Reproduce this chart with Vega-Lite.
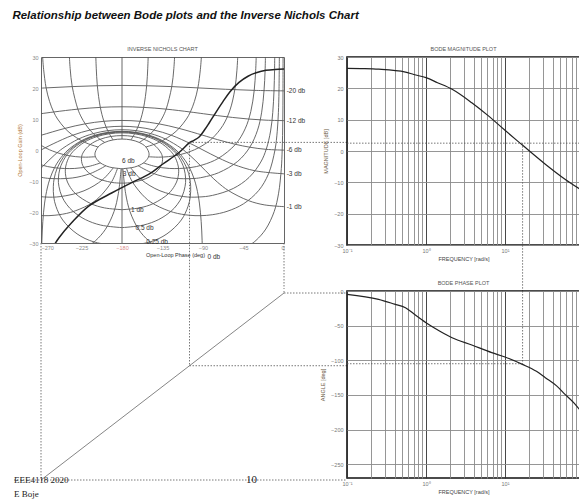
{
"$schema": "https://vega.github.io/schema/vega-lite/v6.json",
"padding": {"left": 12, "top": 10, "right": 0, "bottom": 0},
"background": "white",
"title": {"text": "Relationship between Bode plots and the Inverse Nichols Chart", "anchor": "start", "font": "Liberation Sans", "fontSize": 11.5, "fontWeight": "bold", "fontStyle": "italic", "color": "#111", "offset": 24},
"config": {
  "font": "Liberation Sans",
  "axis": {"labelFont": "Liberation Sans", "labelFontSize": 5.5, "labelColor": "#777", "titleFont": "Liberation Sans", "titleFontSize": 5.5, "titleFontWeight": "normal", "titleColor": "#444", "ticks": false, "domain": false, "gridColor": "#999", "gridWidth": 0.9, "labelPadding": 3, "labelOverlap": false, "labelBound": false}
},
"datasets": {
  "nc": [
    {"c":"m6","x":-180,"y":-6.04},{"c":"m6","x":-165.9,"y":-5.48},{"c":"m6","x":-156.1,"y":-4.17},{"c":"m6","x":-151.3,"y":-2.66},{"c":"m6","x":-149.9,"y":-1.25},{"c":"m6","x":-153.4,"y":0.97},{"c":"m6","x":-160.9,"y":2.44},{"c":"m6","x":-170.1,"y":3.26},{"c":"m6","x":-180,"y":3.53},{"c":"m6","x":-189.9,"y":3.26},{"c":"m6","x":-199.1,"y":2.44},{"c":"m6","x":-206.6,"y":0.97},{"c":"m6","x":-210.1,"y":-1.25},{"c":"m6","x":-208.7,"y":-2.66},{"c":"m6","x":-203.9,"y":-4.17},{"c":"m6","x":-194.1,"y":-5.48},{"c":"m6","x":-180,"y":-6.04},
    {"c":"m3","x":-180,"y":-10.69},{"c":"m3","x":-168.2,"y":-10.43},{"c":"m3","x":-149.9,"y":-8.74},{"c":"m3","x":-137.5,"y":-5.61},{"c":"m3","x":-134.9,"y":-3.01},{"c":"m3","x":-136.5,"y":-1.01},{"c":"m3","x":-144.7,"y":1.76},{"c":"m3","x":-155.6,"y":3.44},{"c":"m3","x":-167.6,"y":4.36},{"c":"m3","x":-180,"y":4.65},{"c":"m3","x":-192.4,"y":4.36},{"c":"m3","x":-204.4,"y":3.44},{"c":"m3","x":-215.3,"y":1.76},{"c":"m3","x":-223.5,"y":-1.01},{"c":"m3","x":-225.1,"y":-3.01},{"c":"m3","x":-222.5,"y":-5.61},{"c":"m3","x":-210.1,"y":-8.74},{"c":"m3","x":-191.8,"y":-10.43},{"c":"m3","x":-180,"y":-10.69},
    {"c":"m1","x":-180,"y":-19.25},{"c":"m1","x":-160.5,"y":-18.67},{"c":"m1","x":-145.3,"y":-17.29},{"c":"m1","x":-128.4,"y":-14.1},{"c":"m1","x":-121.2,"y":-11.39},{"c":"m1","x":-118.1,"y":-9.23},{"c":"m1","x":-117.1,"y":-6.01},{"c":"m1","x":-120.4,"y":-2.73},{"c":"m1","x":-125.7,"y":-0.44},{"c":"m1","x":-138.3,"y":2.54},{"c":"m1","x":-151.9,"y":4.29},{"c":"m1","x":-165.9,"y":5.23},{"c":"m1","x":-180,"y":5.53},{"c":"m1","x":-194.1,"y":5.23},{"c":"m1","x":-208.1,"y":4.29},{"c":"m1","x":-221.7,"y":2.54},{"c":"m1","x":-234.3,"y":-0.44},{"c":"m1","x":-239.6,"y":-2.73},{"c":"m1","x":-242.9,"y":-6.01},{"c":"m1","x":-241.9,"y":-9.23},{"c":"m1","x":-238.8,"y":-11.39},{"c":"m1","x":-231.6,"y":-14.1},{"c":"m1","x":-214.7,"y":-17.29},{"c":"m1","x":-199.5,"y":-18.67},{"c":"m1","x":-180,"y":-19.25},
    {"c":"m05","x":-180,"y":-25.04},{"c":"m05","x":-156.3,"y":-24.22},{"c":"m05","x":-139.2,"y":-22.42},{"c":"m05","x":-125.9,"y":-19.86},{"c":"m05","x":-118.7,"y":-17.64},{"c":"m05","x":-113.2,"y":-14.98},{"c":"m05","x":-109.9,"y":-11.71},{"c":"m05","x":-109.3,"y":-9.32},{"c":"m05","x":-111.1,"y":-5.92},{"c":"m05","x":-116.5,"y":-2.55},{"c":"m05","x":-122.9,"y":-0.24},{"c":"m05","x":-136.7,"y":2.77},{"c":"m05","x":-151,"y":4.53},{"c":"m05","x":-165.4,"y":5.47},{"c":"m05","x":-180,"y":5.77},{"c":"m05","x":-194.6,"y":5.47},{"c":"m05","x":-209,"y":4.53},{"c":"m05","x":-223.3,"y":2.77},{"c":"m05","x":-237.1,"y":-0.24},{"c":"m05","x":-243.5,"y":-2.55},{"c":"m05","x":-248.9,"y":-5.92},{"c":"m05","x":-250.7,"y":-9.32},{"c":"m05","x":-250.1,"y":-11.71},{"c":"m05","x":-246.8,"y":-14.98},{"c":"m05","x":-241.3,"y":-17.64},{"c":"m05","x":-234.1,"y":-19.86},{"c":"m05","x":-220.8,"y":-22.42},{"c":"m05","x":-203.7,"y":-24.22},{"c":"m05","x":-180,"y":-25.04},
    {"c":"m025","x":-180,"y":-31.06},{"c":"m025","x":-148.9,"y":-29.66},{"c":"m025","x":-130.1,"y":-27.06},{"c":"m025","x":-114.1,"y":-22.58},{"c":"m025","x":-106.6,"y":-18.16},{"c":"m025","x":-104.2,"y":-15.19},{"c":"m025","x":-103.7,"y":-11.74},{"c":"m025","x":-104.6,"y":-9.28},{"c":"m025","x":-108,"y":-5.83},{"c":"m025","x":-114.5,"y":-2.44},{"c":"m025","x":-121.4,"y":-0.12},{"c":"m025","x":-135.8,"y":2.89},{"c":"m025","x":-150.5,"y":4.65},{"c":"m025","x":-165.2,"y":5.6},{"c":"m025","x":-180,"y":5.9},{"c":"m025","x":-194.8,"y":5.6},{"c":"m025","x":-209.5,"y":4.65},{"c":"m025","x":-224.2,"y":2.89},{"c":"m025","x":-238.6,"y":-0.12},{"c":"m025","x":-245.5,"y":-2.44},{"c":"m025","x":-252,"y":-5.83},{"c":"m025","x":-255.4,"y":-9.28},{"c":"m025","x":-256.3,"y":-11.74},{"c":"m025","x":-255.8,"y":-15.19},{"c":"m025","x":-253.4,"y":-18.16},{"c":"m025","x":-245.9,"y":-22.58},{"c":"m025","x":-229.9,"y":-27.06},{"c":"m025","x":-211.1,"y":-29.66},{"c":"m025","x":-180,"y":-31.06},
    {"c":"m0","x":-90.5,"y":-35.2},{"c":"m0","x":-91,"y":-29.14},{"c":"m0","x":-92,"y":-23.12},{"c":"m0","x":-94,"y":-17.11},{"c":"m0","x":-97,"y":-12.26},{"c":"m0","x":-100,"y":-9.19},{"c":"m0","x":-105,"y":-5.72},{"c":"m0","x":-110,"y":-3.3},{"c":"m0","x":-120,"y":0},{"c":"m0","x":-135,"y":3.01},{"c":"m0","x":-150,"y":4.77},{"c":"m0","x":-165,"y":5.72},{"c":"m0","x":-180,"y":6.02},{"c":"m0","x":-195,"y":5.72},{"c":"m0","x":-210,"y":4.77},{"c":"m0","x":-225,"y":3.01},{"c":"m0","x":-240,"y":0},{"c":"m0","x":-250,"y":-3.3},{"c":"m0","x":-255,"y":-5.72},{"c":"m0","x":-260,"y":-9.19},{"c":"m0","x":-263,"y":-12.26},{"c":"m0","x":-266,"y":-17.11},{"c":"m0","x":-268,"y":-23.12},{"c":"m0","x":-269,"y":-29.14},{"c":"m0","x":-269.5,"y":-35.2},
    {"c":"mn1","x":0,"y":-18.27},{"c":"mn1","x":-22,"y":-17.69},{"c":"mn1","x":-39.7,"y":-16.3},{"c":"mn1","x":-61.7,"y":-13.1},{"c":"mn1","x":-73.9,"y":-10.39},{"c":"mn1","x":-81.9,"y":-8.23},{"c":"mn1","x":-92.9,"y":-5.01},{"c":"mn1","x":-104.6,"y":-1.73},{"c":"mn1","x":-114.3,"y":0.56},{"c":"mn1","x":-131.7,"y":3.54},{"c":"mn1","x":-148.1,"y":5.29},{"c":"mn1","x":-164.1,"y":6.24},{"c":"mn1","x":-180,"y":6.54},{"c":"mn1","x":-195.9,"y":6.24},{"c":"mn1","x":-211.9,"y":5.29},{"c":"mn1","x":-228.3,"y":3.54},{"c":"mn1","x":-245.7,"y":0.56},{"c":"mn1","x":-255.4,"y":-1.73},{"c":"mn1","x":-267.1,"y":-5.01},{"c":"mn1","x":-278.1,"y":-8.23},
    {"c":"mn3","x":0,"y":-7.68},{"c":"mn3","x":-32.1,"y":-6.71},{"c":"mn3","x":-55.9,"y":-4.67},{"c":"mn3","x":-72.4,"y":-2.6},{"c":"mn3","x":-90,"y":0},{"c":"mn3","x":-103.5,"y":2},{"c":"mn3","x":-125.3,"y":4.77},{"c":"mn3","x":-144.4,"y":6.44},{"c":"mn3","x":-162.4,"y":7.36},{"c":"mn3","x":-180,"y":7.65},{"c":"mn3","x":-197.6,"y":7.36},{"c":"mn3","x":-215.6,"y":6.44},{"c":"mn3","x":-234.7,"y":4.77},{"c":"mn3","x":-256.5,"y":2},{"c":"mn3","x":-270,"y":0},{"c":"mn3","x":-287.6,"y":-2.6},
    {"c":"mn6","x":0,"y":-0.04},{"c":"mn6","x":-19.8,"y":0.21},{"c":"mn6","x":-38,"y":0.9},{"c":"mn6","x":-53.9,"y":1.83},{"c":"mn6","x":-73.8,"y":3.34},{"c":"mn6","x":-90.1,"y":4.75},{"c":"mn6","x":-116.6,"y":6.97},{"c":"mn6","x":-139.1,"y":8.44},{"c":"mn6","x":-159.9,"y":9.26},{"c":"mn6","x":-180,"y":9.53},{"c":"mn6","x":-200.1,"y":9.26},{"c":"mn6","x":-220.9,"y":8.44},{"c":"mn6","x":-243.4,"y":6.97},{"c":"mn6","x":-269.9,"y":4.75},{"c":"mn6","x":-286.2,"y":3.34},
    {"c":"mn12","x":0,"y":9.48},{"c":"mn12","x":-19.9,"y":9.62},{"c":"mn12","x":-39.1,"y":9.98},{"c":"mn12","x":-57.2,"y":10.5},{"c":"mn12","x":-74,"y":11.09},{"c":"mn12","x":-89.6,"y":11.7},{"c":"mn12","x":-104.1,"y":12.26},{"c":"mn12","x":-130.9,"y":13.18},{"c":"mn12","x":-155.9,"y":13.75},{"c":"mn12","x":-180,"y":13.94},{"c":"mn12","x":-204.1,"y":13.75},{"c":"mn12","x":-229.1,"y":13.18},{"c":"mn12","x":-255.9,"y":12.26},{"c":"mn12","x":-270.4,"y":11.7},{"c":"mn12","x":-286,"y":11.09},
    {"c":"mn20","x":0,"y":19.08},{"c":"mn20","x":-33.1,"y":19.23},{"c":"mn20","x":-65.2,"y":19.59},{"c":"mn20","x":-95.7,"y":20.04},{"c":"mn20","x":-124.7,"y":20.45},{"c":"mn20","x":-152.6,"y":20.73},{"c":"mn20","x":-180,"y":20.83},{"c":"mn20","x":-207.4,"y":20.73},{"c":"mn20","x":-235.3,"y":20.45},{"c":"mn20","x":-264.3,"y":20.04},{"c":"mn20","x":-294.8,"y":19.59},
    {"c":"n150r","x":-170.1,"y":3.26},{"c":"n150r","x":-165,"y":5.72},{"c":"n150r","x":-159.9,"y":9.28},{"c":"n150r","x":-155.9,"y":13.79},{"c":"n150r","x":-152.6,"y":20.73},{"c":"n150r","x":-151.4,"y":26.39},{"c":"n150r","x":-150.8,"y":31.09},
    {"c":"n150l","x":-189.9,"y":3.26},{"c":"n150l","x":-195,"y":5.72},{"c":"n150l","x":-200.1,"y":9.28},{"c":"n150l","x":-204.1,"y":13.79},{"c":"n150l","x":-207.4,"y":20.73},{"c":"n150l","x":-208.6,"y":26.39},{"c":"n150l","x":-209.2,"y":31.09},
    {"c":"n120r","x":-160.9,"y":2.43},{"c":"n120r","x":-155.8,"y":3.4},{"c":"n120r","x":-150,"y":4.77},{"c":"n120r","x":-144.5,"y":6.4},{"c":"n120r","x":-139.1,"y":8.45},{"c":"n120r","x":-134.7,"y":10.66},{"c":"n120r","x":-130.9,"y":13.22},{"c":"n120r","x":-124.7,"y":20.45},{"c":"n120r","x":-122.4,"y":26.24},{"c":"n120r","x":-121.4,"y":31.01},
    {"c":"n120l","x":-199.1,"y":2.43},{"c":"n120l","x":-204.2,"y":3.4},{"c":"n120l","x":-210,"y":4.77},{"c":"n120l","x":-215.5,"y":6.4},{"c":"n120l","x":-220.9,"y":8.45},{"c":"n120l","x":-225.3,"y":10.66},{"c":"n120l","x":-229.1,"y":13.22},{"c":"n120l","x":-235.3,"y":20.45},{"c":"n120l","x":-237.6,"y":26.24},{"c":"n120l","x":-238.6,"y":31.01},
    {"c":"n90r","x":-153.4,"y":0.97},{"c":"n90r","x":-143.1,"y":1.94},{"c":"n90r","x":-135,"y":3.01},{"c":"n90r","x":-123.7,"y":5.12},{"c":"n90r","x":-116.6,"y":6.99},{"c":"n90r","x":-108.4,"y":10},{"c":"n90r","x":-104,"y":12.3},{"c":"n90r","x":-99.5,"y":15.68},{"c":"n90r","x":-95.7,"y":20.04},{"c":"n90r","x":-92.9,"y":26.03},{"c":"n90r","x":-91.6,"y":30.88},
    {"c":"n90l","x":-206.6,"y":0.97},{"c":"n90l","x":-216.9,"y":1.94},{"c":"n90l","x":-225,"y":3.01},{"c":"n90l","x":-236.3,"y":5.12},{"c":"n90l","x":-243.4,"y":6.99},{"c":"n90l","x":-251.6,"y":10},{"c":"n90l","x":-256,"y":12.3},{"c":"n90l","x":-260.5,"y":15.68},{"c":"n90l","x":-264.3,"y":20.04},{"c":"n90l","x":-267.1,"y":26.03},{"c":"n90l","x":-268.4,"y":30.88},
    {"c":"n50r","x":-150.6,"y":-2.17},{"c":"n50r","x":-139.5,"y":-2.31},{"c":"n50r","x":-128.4,"y":-2.14},{"c":"n50r","x":-115,"y":-1.46},{"c":"n50r","x":-99.4,"y":0.08},{"c":"n50r","x":-88.7,"y":1.77},{"c":"n50r","x":-79.4,"y":3.85},{"c":"n50r","x":-68,"y":7.88},{"c":"n50r","x":-60,"y":12.92},{"c":"n50r","x":-54.7,"y":19.45},{"c":"n50r","x":-52.3,"y":25.74},{"c":"n50r","x":-51.3,"y":30.72},
    {"c":"n50l","x":-209.4,"y":-2.17},{"c":"n50l","x":-220.5,"y":-2.31},{"c":"n50l","x":-231.6,"y":-2.14},{"c":"n50l","x":-245,"y":-1.46},{"c":"n50l","x":-260.6,"y":0.08},{"c":"n50l","x":-271.3,"y":1.77},{"c":"n50l","x":-280.6,"y":3.85},
    {"c":"n30r","x":-156.2,"y":-4.16},{"c":"n30r","x":-143.4,"y":-5.28},{"c":"n30r","x":-127.5,"y":-5.95},{"c":"n30r","x":-105,"y":-5.72},{"c":"n30r","x":-90,"y":-4.77},{"c":"n30r","x":-73.1,"y":-2.72},{"c":"n30r","x":-53.8,"y":1.86},{"c":"n30r","x":-43.2,"y":6.82},{"c":"n30r","x":-36.9,"y":12.39},{"c":"n30r","x":-33.1,"y":19.23},{"c":"n30r","x":-31.5,"y":25.64},{"c":"n30r","x":-30.8,"y":30.66},
    {"c":"n30l","x":-203.8,"y":-4.16},{"c":"n30l","x":-216.6,"y":-5.28},{"c":"n30l","x":-232.5,"y":-5.95},{"c":"n30l","x":-255,"y":-5.72},{"c":"n30l","x":-270,"y":-4.77},{"c":"n30l","x":-286.9,"y":-2.72},
    {"c":"n20r","x":-162.1,"y":-5.08},{"c":"n20r","x":-145,"y":-7.58},{"c":"n20r","x":-124.7,"y":-9.03},{"c":"n20r","x":-100,"y":-9.19},{"c":"n20r","x":-90,"y":-8.78},{"c":"n20r","x":-72.7,"y":-7.33},{"c":"n20r","x":-51.4,"y":-3.66},{"c":"n20r","x":-37.9,"y":0.94},{"c":"n20r","x":-29.4,"y":6.4},{"c":"n20r","x":-24.8,"y":12.2},{"c":"n20r","x":-22.2,"y":19.15},{"c":"n20r","x":-21,"y":25.6},{"c":"n20r","x":-20.6,"y":30.65},
    {"c":"n20l","x":-197.9,"y":-5.08},{"c":"n20l","x":-215,"y":-7.58},{"c":"n20l","x":-235.3,"y":-9.03},{"c":"n20l","x":-260,"y":-9.19},{"c":"n20l","x":-270,"y":-8.78},{"c":"n20l","x":-287.3,"y":-7.33},
    {"c":"n10r","x":-170.3,"y":-5.76},{"c":"n10r","x":-158.6,"y":-9.54},{"c":"n10r","x":-137.8,"y":-13.16},{"c":"n10r","x":-111.3,"y":-15.04},{"c":"n10r","x":-95,"y":-15.17},{"c":"n10r","x":-79.4,"y":-14.64},{"c":"n10r","x":-56.4,"y":-12.41},{"c":"n10r","x":-38.9,"y":-8.88},{"c":"n10r","x":-25.8,"y":-3.89},{"c":"n10r","x":-19.7,"y":0.26},{"c":"n10r","x":-14.9,"y":6.12},{"c":"n10r","x":-12.5,"y":12.08},{"c":"n10r","x":-11.1,"y":19.1},{"c":"n10r","x":-10.5,"y":25.58},{"c":"n10r","x":-10.3,"y":30.63},
    {"c":"n10l","x":-189.7,"y":-5.76},{"c":"n10l","x":-201.4,"y":-9.54},{"c":"n10l","x":-222.2,"y":-13.16},{"c":"n10l","x":-248.7,"y":-15.04},{"c":"n10l","x":-265,"y":-15.17},{"c":"n10l","x":-280.6,"y":-14.64},
    {"c":"n5r","x":-175,"y":-5.95},{"c":"n5r","x":-168.6,"y":-10.21},{"c":"n5r","x":-154.2,"y":-15.38},{"c":"n5r","x":-142.8,"y":-17.73},{"c":"n5r","x":-122.9,"y":-20.12},{"c":"n5r","x":-105.5,"y":-21.04},{"c":"n5r","x":-92.5,"y":-21.18},{"c":"n5r","x":-79.7,"y":-20.88},{"c":"n5r","x":-63.3,"y":-19.79},{"c":"n5r","x":-45,"y":-17.36},{"c":"n5r","x":-28.2,"y":-13.09},{"c":"n5r","x":-17.2,"y":-7.68},{"c":"n5r","x":-10,"y":0.07},{"c":"n5r","x":-7.5,"y":6.05},{"c":"n5r","x":-6.25,"y":12.05},{"c":"n5r","x":-5.56,"y":19.09},{"c":"n5r","x":-5.15,"y":30.63},
    {"c":"n5l","x":-185,"y":-5.95},{"c":"n5l","x":-191.4,"y":-10.21},{"c":"n5l","x":-205.8,"y":-15.38},{"c":"n5l","x":-217.2,"y":-17.73},{"c":"n5l","x":-237.1,"y":-20.12},{"c":"n5l","x":-254.5,"y":-21.04},{"c":"n5l","x":-267.5,"y":-21.18},{"c":"n5l","x":-280.3,"y":-20.88},
    {"c":"n1a","x":-179,"y":-6.02},{"c":"n1a","x":-176,"y":-13.95},{"c":"n1a","x":-171.1,"y":-19.88},{"c":"n1a","x":-161.7,"y":-25.55},{"c":"n1a","x":-150.7,"y":-29.22},{"c":"n1a","x":-139.7,"y":-31.56},
    {"c":"n1b","x":-41.9,"y":-31.48},{"c":"n1b","x":-31.1,"y":-29.16},{"c":"n1b","x":-20.2,"y":-25.5},{"c":"n1b","x":-10.9,"y":-19.85},{"c":"n1b","x":-6,"y":-13.94},{"c":"n1b","x":-3,"y":-6.01},{"c":"n1b","x":-2,"y":0},{"c":"n1b","x":-1.33,"y":9.54},{"c":"n1b","x":-1.11,"y":19.08},{"c":"n1b","x":-1.03,"y":30.63},
    {"c":"n1l","x":-181,"y":-6.02},{"c":"n1l","x":-184,"y":-13.95},{"c":"n1l","x":-188.9,"y":-19.88},{"c":"n1l","x":-198.3,"y":-25.55},{"c":"n1l","x":-209.3,"y":-29.22},{"c":"n1l","x":-220.3,"y":-31.56},
    {"c":"n0","x":-180,"y":-6.04},{"c":"n0","x":-180,"y":-35},
    {"c":"n180","x":-180,"y":3.53},{"c":"n180","x":-180,"y":35}
  ],
  "ol": [
    {"x":0,"y":26.1},{"x":-10,"y":26},{"x":-20,"y":25.7},{"x":-30,"y":25},{"x":-40,"y":23.8},{"x":-50,"y":21.8},{"x":-60,"y":18.8},{"x":-68,"y":15.5},{"x":-76,"y":12},{"x":-83,"y":8.8},{"x":-88,"y":6.6},{"x":-94,"y":4.3},{"x":-100,"y":3.1},{"x":-105,"y":2.35},{"x":-117,"y":-0.9},{"x":-135,"y":-4.6},{"x":-150,"y":-7.8},{"x":-169,"y":-10.5},{"x":-191,"y":-13.8},{"x":-217,"y":-18.1},{"x":-236,"y":-23.5},{"x":-250,"y":-28.3},{"x":-255,"y":-30.5}
  ],
  "mag": [
    {"w":0.1,"g":26.4},{"w":0.15,"g":26.3},{"w":0.251,"g":26.1},{"w":0.55,"g":25.2},{"w":0.7,"g":24.4},{"w":1,"g":23.4},{"w":1.4,"g":21.8},{"w":2.14,"g":19.7},{"w":3.8,"g":15.4},{"w":6.17,"g":11.2},{"w":10,"g":6.6},{"w":14.1,"g":3.4},{"w":16.6,"g":1.9},{"w":32.4,"g":-4.2},{"w":57.5,"g":-9},{"w":89,"g":-12.2}
  ],
  "ph": [
    {"w":0.1,"p":-4.8},{"w":0.251,"p":-12},{"w":0.4,"p":-19},{"w":0.55,"p":-24.1},{"w":0.7,"p":-33},{"w":1,"p":-45.7},{"w":1.5,"p":-58},{"w":2.14,"p":-67.4},{"w":3.8,"p":-78},{"w":6.8,"p":-89},{"w":10,"p":-95.3},{"w":16.6,"p":-105.9},{"w":25,"p":-116},{"w":32.4,"p":-125.1},{"w":45,"p":-137},{"w":57.5,"p":-149.2},{"w":75,"p":-162},{"w":89,"p":-172}
  ]
},
"columns": 2,
"align": "none",
"bounds": "flush",
"spacing": {"row": 46, "column": 63},
"concat": [
  {
    "width": 243, "height": 186,
    "title": {"text": "INVERSE NICHOLS CHART", "fontSize": 5.5, "fontWeight": "normal", "color": "#555", "offset": 3, "font": "Liberation Sans"},
    "view": {"stroke": "#666", "strokeWidth": 1},
    "layer": [
      {
        "data": {"name": "nc"},
        "mark": {"type": "line", "clip": true, "strokeWidth": 0.9, "color": "#585858", "interpolate": "catmull-rom"},
        "encoding": {
          "x": {"field": "x", "type": "quantitative", "scale": {"domain": [-270, 0], "nice": false, "zero": false},
                "axis": {"values": [-270, -225, -180, -135, -90, -45, 0], "tickCount": 20, "grid": false, "title": "Open-Loop Phase (deg)", "titleX": 134, "titlePadding": 2, "labelPadding": 2, "titleColor": "#333", "labelOverlap": false,
                         "labelColor": {"condition": {"test": "datum.value == -180", "value": "#d88a8a"}, "value": "#888"}}},
          "y": {"field": "y", "type": "quantitative", "scale": {"domain": [-30, 30], "nice": false, "zero": false},
                "axis": {"values": [-30, -20, -10, 0, 10, 20, 30], "tickCount": 20, "grid": false, "title": "Open-Loop Gain (dB)", "titleColor": "#b07838", "titlePadding": 6, "labelOverlap": false, "labelColor": "#888"}},
          "detail": {"field": "c"},
          "order": {"value": null}
        }
      },
      {
        "data": {"name": "ol"},
        "mark": {"type": "line", "clip": true, "strokeWidth": 1.5, "color": "#222", "interpolate": "catmull-rom"},
        "encoding": {
          "x": {"field": "x", "type": "quantitative"},
          "y": {"field": "y", "type": "quantitative"},
          "order": {"value": null}
        }
      },
      {
        "data": {"values": [
          {"k": "h", "x": -105, "y": 2.45}, {"k": "h", "x": 70, "y": 2.45},
          {"k": "v", "x": -105, "y": 2.35}, {"k": "v", "x": -105, "y": -44.84},
          {"k": "l", "x": -270, "y": -30}, {"k": "l", "x": -270, "y": -44.84},
          {"k": "r", "x": 0, "y": -30}, {"k": "r", "x": 0, "y": -44.84}
        ]},
        "mark": {"type": "line", "strokeWidth": 0.8, "color": "#555", "strokeDash": [1.5, 1.5]},
        "encoding": {
          "x": {"field": "x", "type": "quantitative"},
          "y": {"field": "y", "type": "quantitative"},
          "detail": {"field": "k"},
          "order": {"value": null}
        }
      },
      {
        "data": {"values": [
          {"t": "-20 db", "x": 3, "y": 19.1}, {"t": "-12 db", "x": 3, "y": 9.5}, {"t": "-6 db", "x": 3, "y": 0}, {"t": "-3 db", "x": 3, "y": -7.7}, {"t": "-1 db", "x": 3, "y": -18.3}
        ]},
        "mark": {"type": "text", "align": "left", "baseline": "middle", "fontSize": 6.5, "color": "#333", "font": "Liberation Sans"},
        "encoding": {
          "x": {"field": "x", "type": "quantitative"},
          "y": {"field": "y", "type": "quantitative"},
          "text": {"field": "t"}
        }
      },
      {
        "data": {"values": [
          {"t": "6 db", "x": -173, "y": -3.6}, {"t": "3 db", "x": -172, "y": -7.8}, {"t": "1 db", "x": -163, "y": -19.4}, {"t": "0.5 db", "x": -155, "y": -25}, {"t": "0.25 db", "x": -141, "y": -29.8}, {"t": "0 db", "x": -78, "y": -34.6}
        ]},
        "mark": {"type": "text", "align": "center", "baseline": "middle", "fontSize": 6.5, "color": "#333", "font": "Liberation Sans"},
        "encoding": {
          "x": {"field": "x", "type": "quantitative"},
          "y": {"field": "y", "type": "quantitative"},
          "text": {"field": "t"}
        }
      }
    ]
  },
  {
    "width": 233, "height": 188,
    "title": {"text": "BODE MAGNITUDE PLOT", "fontSize": 5.5, "fontWeight": "normal", "color": "#555", "offset": 3, "font": "Liberation Sans"},
    "view": {"stroke": "#111", "strokeWidth": 1.6},
    "layer": [
      {
        "data": {"name": "mag"},
        "mark": {"type": "line", "strokeWidth": 1.2, "color": "#222", "interpolate": "monotone"},
        "encoding": {
          "x": {"field": "w", "type": "quantitative", "scale": {"type": "log", "domain": [0.1, 89], "nice": false},
                "axis": {"values": [0.1,0.2,0.3,0.4,0.5,0.6,0.7,0.8,0.9,1,2,3,4,5,6,7,8,9,10,20,30,40,50,60,70,80], "tickCount": 40,
                         "labelExpr": "datum.value === 0.1 ? '10⁻¹' : datum.value === 1 ? '10⁰' : datum.value === 10 ? '10¹' : ''",
                         "gridColor": {"condition": {"test": "datum.value === 0.1 || datum.value === 1 || datum.value === 10", "value": "#333"}, "value": "#8a8a8a"},
                         "title": "FREQUENCY [rad/s]", "titlePadding": 3, "labelFlush": false, "labelOverlap": false}},
          "y": {"field": "g", "type": "quantitative", "scale": {"domain": [-30, 30], "nice": false, "zero": false},
                "axis": {"values": [-30, -20, -10, 0, 10, 20, 30], "tickCount": 20, "title": "MAGNITUDE [dB]", "titleColor": "#6b5a45", "titlePadding": 5, "labelPadding": 4, "gridColor": "#8a8a8a", "labelOverlap": false}},
          "order": {"value": null}
        }
      },
      {
        "data": {"values": [
          {"k": "h", "w": 0.1, "g": 2.5}, {"k": "h", "w": 89, "g": 2.5},
          {"k": "v", "w": 16.7, "g": 2.5}, {"k": "v", "w": 16.7, "g": -44.7}
        ]},
        "mark": {"type": "line", "strokeWidth": 0.8, "color": "#555", "strokeDash": [1.5, 1.5]},
        "encoding": {
          "x": {"field": "w", "type": "quantitative"},
          "y": {"field": "g", "type": "quantitative"},
          "detail": {"field": "k"},
          "order": {"value": null}
        }
      }
    ]
  },
  {
    "width": 243, "height": 212,
    "view": {"stroke": null},
    "layer": [
      {
        "data": {"values": [{"x": -270, "y": -270}, {"x": 0, "y": 0}]},
        "mark": {"type": "line", "strokeWidth": 0.9, "color": "#777"},
        "encoding": {
          "x": {"field": "x", "type": "quantitative", "scale": {"domain": [-270, 0], "nice": false, "zero": false}, "axis": null},
          "y": {"field": "y", "type": "quantitative", "scale": {"domain": [-303.2, 2.9], "nice": false, "zero": false}, "axis": null}
        }
      },
      {
        "data": {"values": [
          {"k": "v270", "x": -270, "y": 2.9}, {"k": "v270", "x": -270, "y": -270},
          {"k": "v105", "x": -105, "y": 2.9}, {"k": "v105", "x": -105, "y": -105},
          {"k": "v0", "x": 0, "y": 2.9}, {"k": "v0", "x": 0, "y": 0},
          {"k": "h0", "x": 0, "y": 0}, {"k": "h0", "x": 70, "y": 0},
          {"k": "h105", "x": -105, "y": -105}, {"k": "h105", "x": 70, "y": -105},
          {"k": "h270", "x": -300, "y": -270}, {"k": "h270", "x": 70, "y": -270}
        ]},
        "mark": {"type": "line", "strokeWidth": 0.8, "color": "#555", "strokeDash": [1.5, 1.5]},
        "encoding": {
          "x": {"field": "x", "type": "quantitative"},
          "y": {"field": "y", "type": "quantitative"},
          "detail": {"field": "k"},
          "order": {"value": null}
        }
      },
      {
        "data": {"values": [
          {"t": "EEE4118 2020", "x": -300, "y": -270}, {"t": "E Boje", "x": -300, "y": -290}
        ]},
        "mark": {"type": "text", "align": "left", "baseline": "middle", "fontSize": 9, "color": "#222", "font": "Liberation Serif"},
        "encoding": {
          "x": {"field": "x", "type": "quantitative"},
          "y": {"field": "y", "type": "quantitative"},
          "text": {"field": "t"}
        }
      },
      {
        "data": {"values": [{"t": "10", "x": -36, "y": -270}]},
        "mark": {"type": "text", "align": "center", "baseline": "middle", "fontSize": 11, "color": "#222", "font": "Liberation Serif"},
        "encoding": {
          "x": {"field": "x", "type": "quantitative"},
          "y": {"field": "y", "type": "quantitative"},
          "text": {"field": "t"}
        }
      }
    ]
  },
  {
    "width": 233, "height": 187,
    "title": {"text": "BODE PHASE PLOT", "fontSize": 5.5, "fontWeight": "normal", "color": "#555", "offset": 3, "font": "Liberation Sans"},
    "view": {"stroke": "#111", "strokeWidth": 1.6},
    "layer": [
      {
        "data": {"name": "ph"},
        "mark": {"type": "line", "strokeWidth": 1.2, "color": "#222", "interpolate": "monotone"},
        "encoding": {
          "x": {"field": "w", "type": "quantitative", "scale": {"type": "log", "domain": [0.1, 89], "nice": false},
                "axis": {"values": [0.1,0.2,0.3,0.4,0.5,0.6,0.7,0.8,0.9,1,2,3,4,5,6,7,8,9,10,20,30,40,50,60,70,80], "tickCount": 40,
                         "labelExpr": "datum.value === 0.1 ? '10⁻¹' : datum.value === 1 ? '10⁰' : datum.value === 10 ? '10¹' : ''",
                         "gridColor": {"condition": {"test": "datum.value === 0.1 || datum.value === 1 || datum.value === 10", "value": "#333"}, "value": "#8a8a8a"},
                         "title": "FREQUENCY [rad/s]", "titlePadding": 3, "labelFlush": false, "labelOverlap": false}},
          "y": {"field": "p", "type": "quantitative", "scale": {"domain": [-270, 0], "nice": false, "zero": false},
                "axis": {"values": [0, -50, -100, -150, -200, -250], "tickCount": 20, "title": "ANGLE [deg]", "titleColor": "#6b5a45", "titlePadding": 5, "labelPadding": 4, "gridColor": "#8a8a8a", "labelOverlap": false}},
          "order": {"value": null}
        }
      },
      {
        "data": {"values": [
          {"k": "h", "w": 0.1, "p": -105}, {"k": "h", "w": 16.7, "p": -105},
          {"k": "v", "w": 16.7, "p": 0}, {"k": "v", "w": 16.7, "p": -105}
        ]},
        "mark": {"type": "line", "strokeWidth": 0.8, "color": "#555", "strokeDash": [1.5, 1.5]},
        "encoding": {
          "x": {"field": "w", "type": "quantitative"},
          "y": {"field": "p", "type": "quantitative"},
          "detail": {"field": "k"},
          "order": {"value": null}
        }
      }
    ]
  }
]
}
